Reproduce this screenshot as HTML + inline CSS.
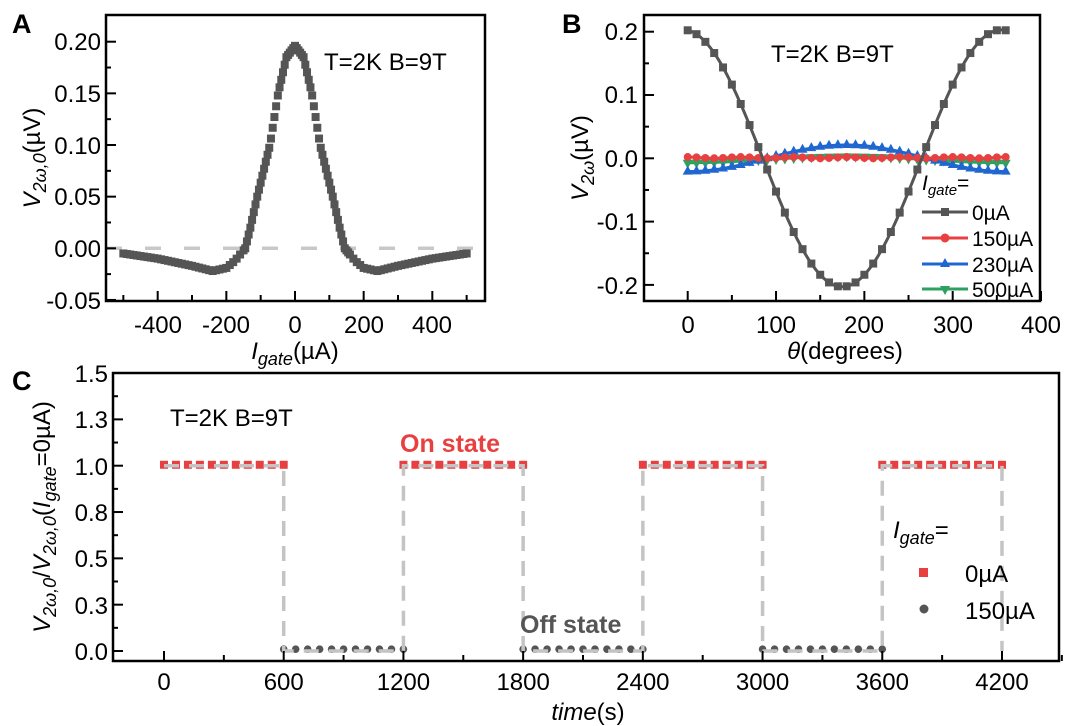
<!DOCTYPE html>
<html><head><meta charset="utf-8"><style>
html,body{margin:0;padding:0;background:#fff;}
svg{display:block;font-family:"Liberation Sans",Arial,sans-serif;}
</style></head><body>
<svg id="s" width="1080" height="726" viewBox="0 0 1080 726" xmlns="http://www.w3.org/2000/svg">
<g font-size="24" fill="#000">
<text x="12" y="33" font-size="27" font-weight="bold">A</text>
<text x="562" y="33" font-size="27" font-weight="bold">B</text>
<text x="12" y="390" font-size="27" font-weight="bold">C</text>

<!-- Panel A -->
<line x1="106" y1="248.3" x2="485" y2="248.3" stroke="#c8c8c8" stroke-width="3.5" stroke-dasharray="16 23"/>
<g id="aData"></g>
<rect x="106" y="15" width="379" height="286" fill="none" stroke="#000" stroke-width="2.5"/>
<g id="aTicks" stroke="#000" stroke-width="2"></g>
<g text-anchor="end">
<text x="101" y="50">0.20</text><text x="101" y="102">0.15</text><text x="101" y="154">0.10</text>
<text x="101" y="205">0.05</text><text x="101" y="257">0.00</text><text x="101" y="309">-0.05</text>
</g>
<g text-anchor="middle">
<text x="158" y="333">-400</text><text x="226" y="333">-200</text><text x="295" y="333">0</text>
<text x="364" y="333">200</text><text x="432" y="333">400</text>
<text x="295" y="359"><tspan font-style="italic">I</tspan><tspan font-style="italic" font-size="18" dy="6">gate</tspan><tspan dy="-6">(µA)</tspan></text>
</g>
<text x="324" y="70">T=2K B=9T</text>
<text transform="translate(40,158) rotate(-90)" text-anchor="middle"><tspan font-style="italic">V</tspan><tspan font-style="italic" font-size="18" dy="6">2ω,0</tspan><tspan dy="-6">(µV)</tspan></text>

<!-- Panel B -->
<g id="bData"></g>
<rect x="644" y="15" width="396" height="286" fill="none" stroke="#000" stroke-width="2.5"/>
<g id="bTicks" stroke="#000" stroke-width="2"></g>
<g text-anchor="end">
<text x="638" y="40">0.2</text><text x="638" y="103">0.1</text><text x="638" y="167">0.0</text>
<text x="638" y="230">-0.1</text><text x="638" y="294">-0.2</text>
</g>
<g text-anchor="middle">
<text x="688" y="333">0</text><text x="776" y="333">100</text><text x="864" y="333">200</text>
<text x="953" y="333">300</text><text x="1041" y="333">400</text>
<text x="845" y="359"><tspan font-style="italic">θ</tspan>(degrees)</text>
</g>
<text x="771" y="62">T=2K B=9T</text>
<text transform="translate(588,158) rotate(-90)" text-anchor="middle"><tspan font-style="italic">V</tspan><tspan font-style="italic" font-size="18" dy="6">2ω</tspan><tspan dy="-6">(µV)</tspan></text>
<g font-size="21">
<text x="922" y="190"><tspan font-style="italic">I</tspan><tspan font-style="italic" font-size="15" dy="5">gate</tspan><tspan dy="-5">=</tspan></text>
<line x1="922" y1="212" x2="968" y2="212" stroke="#555" stroke-width="3"/><rect x="941" y="208" width="8" height="8" fill="#555"/>
<text x="972" y="220">0µA</text>
<line x1="922" y1="238" x2="968" y2="238" stroke="#e84040" stroke-width="3"/><circle cx="945" cy="238" r="4.5" fill="#e84040"/>
<text x="972" y="246">150µA</text>
<line x1="922" y1="264" x2="968" y2="264" stroke="#1f66d0" stroke-width="3"/><path d="M945,258 L950,267 L940,267Z" fill="#1f66d0"/>
<text x="972" y="272">230µA</text>
<line x1="922" y1="289" x2="968" y2="289" stroke="#2ea060" stroke-width="3"/><path d="M945,295 L950,286 L940,286Z" fill="#2ea060"/>
<text x="972" y="297">500µA</text>
</g>

<!-- Panel C -->
<g id="cData"></g>
<rect x="113" y="373" width="946" height="288" fill="none" stroke="#000" stroke-width="2.5"/>
<g id="cTicks" stroke="#000" stroke-width="2"></g>
<g text-anchor="end">
<text x="108" y="382">1.5</text><text x="108" y="428">1.3</text><text x="108" y="475">1.0</text>
<text x="108" y="521">0.8</text><text x="108" y="567">0.5</text><text x="108" y="614">0.3</text>
<text x="108" y="660">0.0</text>
</g>
<g text-anchor="middle" id="cxl"></g>
<text x="588" y="720" text-anchor="middle"><tspan font-style="italic">time</tspan>(s)</text>
<text transform="translate(50,517) rotate(-90)" text-anchor="middle"><tspan font-style="italic">V</tspan><tspan font-style="italic" font-size="18" dy="6">2ω,0</tspan><tspan dy="-6">/</tspan><tspan font-style="italic">V</tspan><tspan font-style="italic" font-size="18" dy="6">2ω,0</tspan><tspan dy="-6">(</tspan><tspan font-style="italic">I</tspan><tspan font-style="italic" font-size="18" dy="6">gate</tspan><tspan dy="-6">=0µA)</tspan></text>
<text x="170" y="426">T=2K B=9T</text>
<text x="400" y="452" font-size="25" font-weight="bold" fill="#e84040">On state</text>
<text x="520" y="633" font-size="25" font-weight="bold" fill="#555">Off state</text>
<text x="893" y="538"><tspan font-style="italic">I</tspan><tspan font-style="italic" font-size="18" dy="6">gate</tspan><tspan dy="-6">=</tspan></text>
<rect x="919" y="568" width="9" height="9" fill="#e84040"/>
<text x="965" y="582">0µA</text>
<circle cx="924" cy="609" r="4.5" fill="#555"/>
<text x="965" y="619">150µA</text>
</g>
</svg>
<script>
var NS="http://www.w3.org/2000/svg";
function el(p,t,a){var e=document.createElementNS(NS,t);for(var k in a)e.setAttribute(k,a[k]);document.getElementById(p).appendChild(e);return e;}
function ax(x){return 295+x*0.3433;} function ay(v){return 248.3-v*1033;}
var pts=[[0,0.196],[25,0.185],[49,0.15],[73,0.1],[110,0.05],[130,0.02],[145,0.0],[175,-0.012],[200,-0.019],[240,-0.022],[300,-0.017],[400,-0.01],[500,-0.005]];
function fa(x){var a=Math.abs(x);for(var i=0;i<pts.length-1;i++){if(a<=pts[i+1][0]){var t=(a-pts[i][0])/(pts[i+1][0]-pts[i][0]);return pts[i][1]+t*(pts[i+1][1]-pts[i][1]);}}return -0.005;}
for(var x=-500;x<=500;x+=(Math.abs(x)<160?5:10)){var v=fa(x);el("aData","rect",{x:ax(x)-4,y:ay(v)-4,width:8,height:8,fill:"#555"});}
for(var x=-500;x<=500;x+=100){el("aTicks","line",{x1:ax(x),y1:301,x2:ax(x),y2:x%200==0?291:295});}
for(var i=0;i<=10;i++){var v=-0.05+i*0.025;var y=ay(v);el("aTicks","line",{x1:106,y1:y,x2:i%2==0?116:111,y2:y});}
function bx(t){return 687.7+t*0.8833;} function by(v){return 158.3-v*633;}
var ser=[[function(t){return -0.203*Math.cos((t-175)*Math.PI/180);},"#555","sq"],
[function(t){return 0.001+0.001*Math.cos(t*Math.PI/30);},"#e84040","ci"],
[function(t){return -0.021*Math.cos(t*Math.PI/180);},"#1f66d0","tu"],
[function(t){return -0.005*Math.cos(t*Math.PI/180)-0.002;},"#2ea060","td"]];
for(var s=3;s>=0;s--){var f=ser[s][0],c=ser[s][1],d="";
for(var t=0;t<=360;t+=2){d+=(t?"L":"M")+bx(t)+","+by(f(t));}
el("bData","path",{d:d,fill:"none",stroke:c,"stroke-width":3});
for(var t=0;t<=360;t+=10){var X=bx(t),Y=by(f(t));
if(ser[s][2]=="sq")el("bData","rect",{x:X-4,y:Y-4,width:8,height:8,fill:c});
else if(ser[s][2]=="ci")el("bData","circle",{cx:X,cy:Y,r:4,fill:c});
else if(ser[s][2]=="tu")el("bData","path",{d:"M"+X+","+(Y-6)+"L"+(X+5)+","+(Y+3)+"L"+(X-5)+","+(Y+3)+"Z",fill:c});
else el("bData","path",{d:"M"+X+","+(Y+6)+"L"+(X+5)+","+(Y-3)+"L"+(X-5)+","+(Y-3)+"Z",fill:c});}}
for(var t=0;t<=400;t+=50){el("bTicks","line",{x1:bx(t),y1:301,x2:bx(t),y2:t%100==0?291:295});}
for(var i=-4;i<=4;i++){var y=by(i*0.05);el("bTicks","line",{x1:644,y1:y,x2:i%2==0?654:649,y2:y});}
function cx(t){return 164+t*0.19952;} function cy(v){return 651-v*185.3;}
var d="M"+cx(0)+","+cy(1);
for(var k=1;k<=7;k++){var lv=(k%2==1)?0:1;d+="L"+cx(600*k)+","+cy(1-lv)+"L"+cx(600*k)+","+cy(lv);}
for(var k=0;k<7;k++){var on=k%2==0;
for(var t=600*k;t<=600*k+600;t+=60){if(on)el("cData","rect",{x:cx(t)-4,y:cy(1.005)-4,width:8,height:8,fill:"#e84040"});
else el("cData","circle",{cx:cx(t),cy:cy(0.01),r:3.8,fill:"#555"});}}
el("cData","path",{d:d,fill:"none",stroke:"#c4c4c4","stroke-width":3.5,"stroke-dasharray":"15 10"});
for(var t=0;t<=4500;t+=300){el("cTicks","line",{x1:cx(t),y1:661,x2:cx(t),y2:t%600==0?651:655});}
for(var i=0;i<=14;i++){var y=cy(i*0.125);if(y<374)continue;el("cTicks","line",{x1:113,y1:y,x2:i%2==0?123:118,y2:y});}
for(var t=0;t<=4200;t+=600){var e=el("cxl","text",{x:cx(t),y:690});e.textContent=t;}
</script>
</body></html>
